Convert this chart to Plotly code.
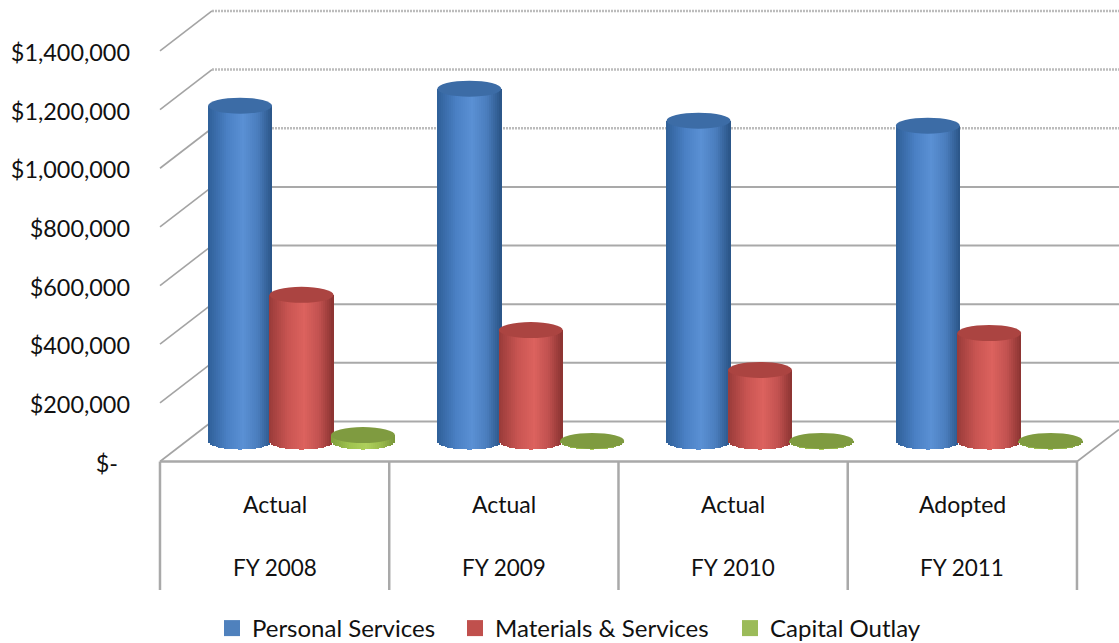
import numpy as np
import plotly.graph_objects as go

W, H = 1119, 643
status = ["Actual", "Actual", "Actual", "Adopted"]
years = ["FY 2008", "FY 2009", "FY 2010", "FY 2011"]
personal_services = [1145000, 1203000, 1094000, 1077000]
materials_services = [500000, 380000, 244000, 370000]
capital_outlay = [22000, 2000, 2000, 2000]
tick_vals = [0, 200000, 400000, 600000, 800000, 1000000, 1200000, 1400000]
tick_text = ["$-\u00a0\u00a0", "$200,000", "$400,000", "$600,000", "$800,000",
             "$1,000,000", "$1,200,000", "$1,400,000"]

FONT = "Lato"
GRID = "#a9a9a9"
PX_PER_UNIT = 58.65 / 200000
GROUP_PX = 229.25
Y_FRONT0, Y_MID0, Y_BACK0 = 461.5, 441.5, 421.5
X_FRONT0, X_MID0 = 274.6, 301.5
X_BACK_LEFT = 212
SERIES_STEP = 0.268
DIAM = 0.279
ELL = 8.0 / PX_PER_UNIT  # ellipse half height in value units


def xrange_for(x0):
    return [(0 - x0) / GROUP_PX, (W - x0) / GROUP_PX]


def yrange_for(y0):
    return [(y0 - H) / PX_PER_UNIT, y0 / PX_PER_UNIT]


def py(v, y0):
    return 1 - (y0 - v * PX_PER_UNIT) / H


fig = go.Figure()

series = [
    ("Personal Services", personal_services, -1,
     ["#2f5f98", "#4a80c4", "#5a90d4", "#4a7dbd", "#2a5486"], "#3c6ca6", "#4f81bd", "legend", 212),
    ("Materials & Services", materials_services, 0,
     ["#993b39", "#c95552", "#dc625e", "#c25250", "#8a3331"], "#ab4441", "#c0504d", "legend2", 455),
    ("Capital Outlay", capital_outlay, 1,
     ["#7f9f3d", "#a0c450", "#aed05c", "#9abb4c", "#78953a"], "#7f9b40", "#9bbb59", "legend3", 730),
]


def blend(stops, t):
    p = np.array([0.0, 0.3, 0.55, 0.78, 1.0])
    rgb = [np.array([int(c[i:i + 2], 16) for i in (1, 3, 5)]) for c in stops]
    out = [np.interp(t, p, [c[k] for c in rgb]) for k in range(3)]
    return "rgb(%d,%d,%d)" % tuple(int(round(o)) for o in out)


N = 32
cats = np.arange(len(years))
shapes = []
legends = {}
for name, vals, pos, stops, top, swatch, lg, lg_left in series:
    for i in range(N):
        t = (i + 0.5) / N
        u = 2 * t - 1
        sag = ELL * np.sqrt(1 - u * u)
        fig.add_trace(go.Bar(
            x=cats + pos * SERIES_STEP + u * DIAM / 2,
            y=[v + sag for v in vals],
            base=[-sag] * len(vals),
            width=DIAM / N * 1.25,
            marker=dict(color=blend(stops, t), line=dict(width=0)),
            xaxis="x2", yaxis="y2", showlegend=False, hoverinfo="skip",
        ))
    for c, v in zip(cats, vals):
        cx = c + pos * SERIES_STEP
        shapes.append(dict(type="circle", xref="x2", yref="y2", layer="above",
                           x0=cx - DIAM / 2, x1=cx + DIAM / 2,
                           y0=v - ELL, y1=v + ELL,
                           fillcolor=top, line=dict(width=0)))
    fig.add_trace(go.Scatter(x=[None], y=[None], mode="markers", name=name, legend=lg,
                             marker=dict(symbol="square", size=16, color=swatch)))
    legends[lg] = dict(orientation="h", x=lg_left / W, y=1 - 628.5 / H, xanchor="left", yanchor="middle",
                       font=dict(size=24), bgcolor="rgba(0,0,0,0)", itemsizing="trace")

# back wall gridlines and left wall steps
for v in tick_vals:
    upper = v >= 1000000
    shapes.append(dict(type="line", xref="paper", yref="paper", layer="below",
                       x0=X_BACK_LEFT / W, x1=1, y0=py(v, Y_BACK0), y1=py(v, Y_BACK0),
                       line=dict(color="#bcbcbc" if upper else GRID, width=2.5 if upper else 2,
                                 dash="2px,1px" if upper else "solid")))
    shapes.append(dict(type="line", xref="paper", yref="paper", layer="below",
                       x0=160 / W, x1=X_BACK_LEFT / W, y0=py(v, Y_FRONT0), y1=py(v, Y_BACK0),
                       line=dict(color="#a4a4a4", width=1.6)))

# floor: front edge, right wall edge, category dividers
shapes.append(dict(type="line", xref="x", yref="y", layer="below",
                   x0=-0.5, x1=len(years) - 0.5, y0=0, y1=0,
                   line=dict(color=GRID, width=2.5)))
shapes.append(dict(type="line", xref="paper", yref="paper", layer="below",
                   x0=1077 / W, x1=1, y0=py(0, Y_FRONT0), y1=py(0, Y_FRONT0 - 32),
                   line=dict(color="#a4a4a4", width=1.6)))
for k in range(len(years) + 1):
    shapes.append(dict(type="line", xref="x", yref="paper", layer="below",
                       x0=k - 0.5, x1=k - 0.5, y0=py(0, Y_FRONT0), y1=1 - 590 / H,
                       line=dict(color=GRID, width=2.5)))

annotations = []
for k, (s, fy) in enumerate(zip(status, years)):
    annotations.append(dict(x=k, y=1 - 504 / H, xref="x", yref="paper", text=s, showarrow=False,
                            xanchor="center", yanchor="middle"))
    annotations.append(dict(x=k, y=1 - 567 / H, xref="x", yref="paper", text=fy, showarrow=False,
                            xanchor="center", yanchor="middle", font=dict(size=22.5)))

hidden = dict(visible=False, fixedrange=True)
fig.update_layout(
    width=W, height=H, autosize=False,
    margin=dict(l=0, r=0, t=0, b=0, pad=0, autoexpand=False),
    paper_bgcolor="white", plot_bgcolor="rgba(0,0,0,0)",
    font=dict(family=FONT, size=23, color="#111111"),
    barmode="overlay", bargap=0,
    xaxis=dict(hidden, range=xrange_for(X_FRONT0)),
    yaxis=dict(range=yrange_for(Y_FRONT0), tickmode="array", tickvals=tick_vals, ticktext=tick_text,
               showgrid=False, zeroline=False, showline=False, ticks="", fixedrange=True,
               anchor="free", position=130 / W, side="left", ticklabelposition="outside",
               tickfont=dict(size=23.4), ticklabelshift=2),
    xaxis2=dict(hidden, range=xrange_for(X_MID0), overlaying="x"),
    yaxis2=dict(hidden, range=yrange_for(Y_MID0), overlaying="y"),
    shapes=shapes, annotations=annotations,
    showlegend=True,
    **legends,
)
fig.add_trace(go.Scatter(x=[None], y=[None], xaxis="x", yaxis="y", showlegend=False, hoverinfo="skip"))
fig.write_html("out.html", config=dict(displayModeBar=False),
               post_script="document.body.style.margin='0';document.documentElement.style.overflow='hidden';")
